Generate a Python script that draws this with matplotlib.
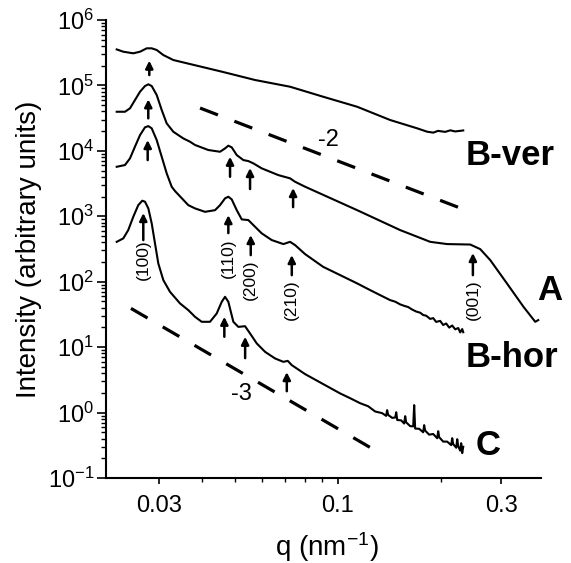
import numpy as np
import matplotlib.pyplot as plt
from matplotlib.ticker import FixedLocator, NullFormatter, LogLocator

plt.rcParams['font.family'] = ['Liberation Sans', 'DejaVu Sans']
plt.rcParams['mathtext.fontset'] = 'custom'
plt.rcParams['mathtext.rm'] = 'Liberation Sans'
plt.rcParams['mathtext.it'] = 'Liberation Sans:italic'
plt.rcParams['mathtext.default'] = 'regular'

# B-ver (top curve)
q_bver = [0.02257, 0.02359, 0.02523, 0.02640, 0.02762, 0.02856, 0.02954, 0.03088, 0.03303, 0.03695,
          0.04584, 0.05726, 0.07247, 0.09049, 0.1138, 0.1421, 0.1704, 0.1823, 0.1900, 0.1960,
          0.2057, 0.2130, 0.2200, 0.2323]
I_bver = [3.55e5, 3.276e5, 3.097e5, 3.276e5, 3.692e5, 3.692e5, 3.478e5, 2.915e5, 2.445e5, 2.124e5,
          1.62e5, 1.21e5, 9.55e4, 6.72e4, 4.72e4, 2.96e4, 2.21e4, 1.96e4, 1.90e4, 2.02e4,
          1.95e4, 2.06e4, 1.98e4, 2.05e4]

# A
q_a = [0.02257, 0.02386, 0.02468, 0.02552, 0.02640, 0.02730, 0.02792, 0.02856, 0.02954, 0.03055,
       0.03159, 0.03303, 0.03532, 0.03695, 0.03822, 0.04180, 0.04523, 0.04678, 0.04783, 0.04894,
       0.05061, 0.05291, 0.05472, 0.05659, 0.05988, 0.06696, 0.07245, 0.07493, 0.08017, 0.1138,
       0.1520, 0.1860, 0.2085, 0.2435, 0.2604, 0.2786, 0.3117, 0.3485, 0.3771, 0.3848]
I_a = [3.96e4, 3.96e4, 4.47e4, 5.98e4, 8.01e4, 9.79e4, 1.04e5, 9.79e4, 7.13e4, 4.21e4,
       2.63e4, 1.96e4, 1.55e4, 1.38e4, 1.23e4, 1.03e4, 9.69e3, 1.09e4, 1.20e4, 1.13e4,
       8.62e3, 7.23e3, 6.98e3, 6.44e3, 5.40e3, 4.26e3, 3.80e3, 3.37e3, 2.83e3, 1.24e3,
       615, 407, 376, 370, 315, 214, 94.2, 41.3, 24.4, 25.9]

# B-hor
q_bh = [0.02257, 0.02386, 0.02468, 0.02552, 0.02640, 0.02730, 0.02792, 0.02856, 0.02954, 0.03055,
        0.03159, 0.03267, 0.03341, 0.03653, 0.03822, 0.04088, 0.04373, 0.04523, 0.04678, 0.04783,
        0.04894, 0.05061, 0.05234, 0.05472, 0.05659, 0.05988, 0.06405, 0.06926, 0.07245, 0.07493,
        0.08017, 0.09049, 0.1138, 0.1242, 0.1328, 0.1421, 0.1470, 0.1520, 0.1561, 0.1604,
        0.1648, 0.1693, 0.1739, 0.1774, 0.1811, 0.1860, 0.1898, 0.1936, 0.1989, 0.2030,
        0.2071, 0.2114, 0.2157, 0.2201, 0.2246, 0.2276, 0.2307, 0.2323]
I_bh = [5.71e3, 6.07e3, 7.68e3, 1.16e4, 1.74e4, 2.29e4, 2.39e4, 2.21e4, 1.46e4, 8.12e3,
        4.53e3, 2.83e3, 2.43e3, 1.48e3, 1.32e3, 1.17e3, 1.24e3, 1.48e3, 1.88e3, 1.99e3,
        1.81e3, 1.24e3, 897, 875, 734, 548, 433, 376, 407, 363,
        264, 169, 94.2, 74.4, 62.4, 52.3, 49.5, 45.0, 42.8, 41.0,
        37.5, 35.0, 33.6, 31.0, 30.2, 27.0, 27.8, 24.3, 25.2, 21.8,
        23.0, 19.9, 21.4, 18.7, 19.6, 16.8, 18.9, 16.9]

# C
q_c = [0.02257, 0.02359, 0.02439, 0.02523, 0.02609, 0.02681, 0.02730, 0.02792, 0.02856, 0.02920,
       0.02986, 0.03088, 0.03230, 0.03455, 0.03653, 0.03822, 0.03998, 0.04228, 0.04423, 0.04575,
       0.04678, 0.04783, 0.04947, 0.05116, 0.05352, 0.05535, 0.05790, 0.06123, 0.06549, 0.06926,
       0.07134, 0.07329, 0.08017,
       0.1015, 0.1085, 0.1161, 0.1225, 0.1284, 0.1346, 0.1383, 0.1392, 0.1402, 0.1440,
       0.1470, 0.1480, 0.1490, 0.1530, 0.1561, 0.1572, 0.1582, 0.1626, 0.1659, 0.1670,
       0.1681, 0.1727, 0.1774, 0.1786, 0.1798, 0.1847, 0.1898, 0.1950, 0.1963, 0.1976,
       0.2030, 0.2085, 0.2142, 0.2157, 0.2171, 0.2216, 0.2231, 0.2246, 0.2276, 0.2291,
       0.2307, 0.2323]
I_c = [407, 459, 615, 982, 1.48e3, 1.73e3, 1.67e3, 1.32e3, 779, 385,
       190, 106, 70.1, 46.6, 36.8, 29.1, 24.4, 24.4, 32.7, 49.3,
       58.8, 49.3, 24.4, 20.4, 20.9, 16.2, 11.4, 8.48, 6.72, 5.96,
       6.17, 5.31, 3.87,
       1.96, 1.66, 1.39, 1.25, 1.04, 0.980, 0.890, 1.09, 0.920, 0.830,
       0.840, 1.01, 0.770, 0.760, 0.680, 0.881, 0.710, 0.620, 0.615, 1.30,
       0.570, 0.565, 0.500, 0.642, 0.530, 0.460, 0.470, 0.405, 0.519, 0.420,
       0.360, 0.360, 0.318, 0.406, 0.330, 0.290, 0.392, 0.305, 0.262, 0.340,
       0.240, 0.300]

# power-law guide lines (end points)
q_s2 = [0.03954, 0.2402]
I_s2 = [4.51e4, 1.20e3]
q_s3 = [0.02484, 0.1256]
I_s3 = [39.1, 0.283]

# arrows: q, head, tail
arrow_q = [0.02810, 0.02791, 0.04838, 0.05535, 0.07395, 0.2479, 0.02780,
           0.02699, 0.04783, 0.05561, 0.07330, 0.04656, 0.05355, 0.07088]
arrow_head = [2.39e5, 6.13e4, 8.12e3, 5.46e3, 2.70e3, 274, 1.46e4,
              1.12e3, 1.04e3, 516, 255, 29.1, 14.4, 4.15]
arrow_tail = [1.44e5, 3.14e4, 4.02e3, 2.61e3, 1.38e3, 126, 7.23e3,
              433, 553, 255, 126, 14.4, 6.79, 2.12]

hkl_text = ['(100)', '(110)', '(200)', '(210)', '(001)']
hkl_q = [0.02699, 0.04783, 0.05561, 0.07330, 0.2479]
hkl_I = [214, 230, 106, 52.3, 52.3]

names = ['B-ver', 'A', 'B-hor', 'C']
name_q = [0.2354, 0.3823, 0.2354, 0.2518]
name_I = [8.48e3, 74.4, 7.03, 0.317]

fig = plt.figure(figsize=(5.71, 5.63), dpi=100)
ax = fig.add_axes([106/571, 85/563, 435/571, 458/563])

for q, I in [(q_bver, I_bver), (q_a, I_a), (q_bh, I_bh), (q_c, I_c)]:
    ax.plot(q, I, color='k', lw=1.5, solid_joinstyle='round')

ax.plot(q_s2, I_s2, color='k', lw=2.3, dashes=(6, 5.5))
ax.plot(q_s3, I_s3, color='k', lw=2.3, dashes=(6, 5.5))

for q, h, t in zip(arrow_q, arrow_head, arrow_tail):
    ax.annotate('', xy=(q, h), xytext=(q, t),
                arrowprops=dict(arrowstyle='-|>', color='k', lw=1.8, mutation_scale=11,
                                shrinkA=0, shrinkB=0))

for s, q, I in zip(hkl_text, hkl_q, hkl_I):
    ax.text(q, I, s, rotation=90, ha='center', va='center', fontsize=12.5)

for s, q, I in zip(names, name_q, name_I):
    ax.text(q, I, s, ha='left', va='center', fontsize=25, fontweight='bold')

ax.text(0.0936, 1.46e4, '-2', ha='center', va='center', fontsize=17)
ax.text(0.05211, 1.91, '-3', ha='center', va='center', fontsize=17)

ax.set_xscale('log')
ax.set_yscale('log')
ax.set_xlim(0.0210, 0.392)
ax.set_ylim(0.1, 1e6)

ax.xaxis.set_major_locator(FixedLocator([0.03, 0.1, 0.3]))
ax.set_xticklabels(['0.03', '0.1', '0.3'])
ax.xaxis.set_minor_locator(FixedLocator([0.04, 0.05, 0.06, 0.07, 0.08, 0.09, 0.2]))
ax.xaxis.set_minor_formatter(NullFormatter())
ax.yaxis.set_major_locator(LogLocator(base=10, numticks=20))
ax.yaxis.set_minor_locator(LogLocator(base=10, subs=np.arange(2, 10), numticks=20))
ax.yaxis.set_minor_formatter(NullFormatter())

for side in ['top', 'right']:
    ax.spines[side].set_visible(False)
for side in ['left', 'bottom']:
    ax.spines[side].set_linewidth(1.5)

ax.tick_params(axis='both', which='major', direction='out', width=1.2, labelsize=17)
ax.tick_params(axis='y', which='major', length=6.5, pad=2)
ax.tick_params(axis='y', which='minor', direction='out', length=3.5, width=1.0)
ax.tick_params(axis='x', which='major', length=4.5, pad=8)
ax.tick_params(axis='x', which='minor', direction='out', length=3, width=1.0)

ax.set_xlabel('q (nm$^{-1}$)', fontsize=20)
ax.set_ylabel('Intensity (arbitrary units)', fontsize=20)
ax.xaxis.set_label_coords(0.508, -0.113)
ax.yaxis.set_label_coords(-0.147, 0.5)

fig.savefig('out.png', dpi=100)
